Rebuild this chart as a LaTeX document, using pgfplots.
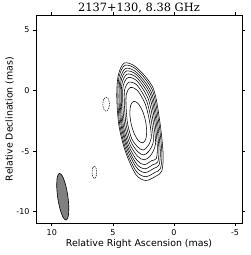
\documentclass[border=0pt]{standalone}
\usepackage{fontspec}
\setmainfont{DejaVu Sans}
\newfontfamily\titlefont{DejaVu Serif}
\usepackage{pgfplots}
\pgfplotsset{compat=1.18}
\definecolor{beamgray}{RGB}{128,128,128}
\begin{document}
\begin{tikzpicture}
\begin{axis}[
  scale only axis, width=206pt, height=208pt,
  x dir=reverse,
  xmin=-5.57, xmax=11.29, ymin=-10.93, ymax=6.24,
  xtick={10,5,0,-5}, xticklabels={10,5,0,-5},
  ytick={5,0,-5,-10}, yticklabels={5,0,-5,-10},
  tick align=outside, major tick length=3pt,
  axis line style={line width=0.6pt},
  tick style={black, line width=0.6pt},
  ticklabel style={font=\fontsize{8}{9}\selectfont},
  xlabel={Relative Right Ascension (mas)},
  ylabel={Relative Declination (mas)},
  label style={font=\fontsize{9.4}{11}\selectfont},
  xlabel style={at={(axis description cs:0.5,-0.101)}, anchor=center},
  ylabel style={at={(axis description cs:-0.128,0.5)}, anchor=center},
  title={2137+130, 8.38 GHz},
  title style={font=\titlefont\fontsize{11.4}{13}\selectfont, at={(axis description cs:0.5,1)}, anchor=south, inner sep=0pt, yshift=-4.5pt},
  every axis plot/.append style={black, line width=0.55pt},
]
% positive contours
\addplot[smooth cycle] coordinates {(3.284,-0.888) (3.529,-1.180) (3.610,-1.852) (3.507,-2.725) (3.246,-3.564) (2.898,-4.145) (2.556,-4.312) (2.312,-4.020) (2.230,-3.348) (2.333,-2.475) (2.594,-1.636) (2.942,-1.055)};
\addplot[smooth cycle] coordinates {(3.560,0.253) (3.897,-0.287) (3.910,-1.473) (3.785,-2.774) (3.443,-3.994) (2.936,-4.678) (2.507,-4.903) (2.148,-4.596) (1.852,-3.895) (2.002,-2.510) (2.344,-1.122) (2.981,0.009)};
\addplot[smooth cycle] coordinates {(3.667,0.696) (4.040,0.060) (4.049,-1.298) (3.914,-2.797) (3.535,-4.194) (2.963,-5.043) (2.474,-5.307) (2.036,-4.990) (1.677,-4.148) (1.848,-2.526) (2.228,-0.883) (2.996,0.423)};
\addplot[smooth cycle] coordinates {(3.759,1.076) (4.162,0.358) (4.183,-1.129) (4.038,-2.819) (3.623,-4.386) (2.989,-5.407) (2.441,-5.711) (1.924,-5.384) (1.508,-4.392) (1.700,-2.542) (2.116,-0.654) (3.009,0.777)};
\addplot[smooth cycle] coordinates {(3.828,1.361) (4.254,0.581) (4.300,-0.980) (4.148,-2.838) (3.700,-4.555) (3.015,-5.772) (2.408,-6.115) (1.812,-5.777) (1.443,-5.611) (1.359,-4.607) (1.570,-2.556) (2.017,-0.452) (3.019,1.043)};
\addplot[smooth cycle] coordinates {(3.889,1.615) (4.336,0.779) (4.402,-0.852) (4.242,-2.855) (3.767,-4.701) (3.037,-6.081) (2.379,-6.457) (1.717,-6.111) (1.325,-5.889) (1.231,-4.793) (1.458,-2.568) (1.932,-0.277) (3.027,1.280)};
\addplot[smooth cycle] coordinates {(3.943,1.837) (4.407,0.953) (4.493,-0.737) (4.326,-2.869) (3.827,-4.831) (3.058,-6.361) (2.354,-6.767) (1.631,-6.414) (1.218,-6.138) (1.116,-4.958) (1.357,-2.578) (1.856,-0.121) (3.035,1.486)};
\addplot[smooth cycle] coordinates {(4.004,2.090) (4.489,1.151) (4.594,-0.608) (4.421,-2.886) (3.894,-4.977) (3.080,-6.670) (2.326,-7.109) (1.536,-6.747) (1.100,-6.416) (0.988,-5.144) (1.245,-2.590) (1.772,0.053) (3.044,1.723)};
\addplot[smooth cycle] coordinates {(4.05,2.28) (4.55,1.30) (4.68,-0.5) (4.5,-2.9) (3.95,-5.1) (3.1,-6.95) (2.3,-7.42) (1.45,-7.05) (1.0,-6.65) (0.88,-5.3) (1.15,-2.6) (1.7,0.2) (3.05,1.9)};
% negative contours
\addplot[smooth cycle, line width=0.5pt, dash pattern=on 1.4pt off 1pt] coordinates {(5.55,-0.54) (5.741,-0.710) (5.82,-1.12) (5.741,-1.530) (5.55,-1.70) (5.359,-1.530) (5.28,-1.12) (5.359,-0.710)};
\addplot[smooth cycle, line width=0.5pt, dash pattern=on 1.4pt off 1pt] coordinates {(6.51,-6.23) (6.644,-6.382) (6.70,-6.75) (6.644,-7.118) (6.51,-7.27) (6.376,-7.118) (6.32,-6.75) (6.376,-6.382)};
% beam
\addplot[smooth cycle, fill=beamgray, draw=black, line width=0.6pt] coordinates {(9.371,-6.829) (9.543,-7.117) (9.596,-7.845) (9.516,-8.819) (9.325,-9.776) (9.073,-10.462) (8.829,-10.691) (8.657,-10.403) (8.604,-9.675) (8.684,-8.702) (8.875,-7.744) (9.127,-7.059)};
\end{axis}
\path (current axis.south west) ++(-36pt,-32pt);
\path (current axis.north east) ++(8pt,15pt);
\end{tikzpicture}
\end{document}
